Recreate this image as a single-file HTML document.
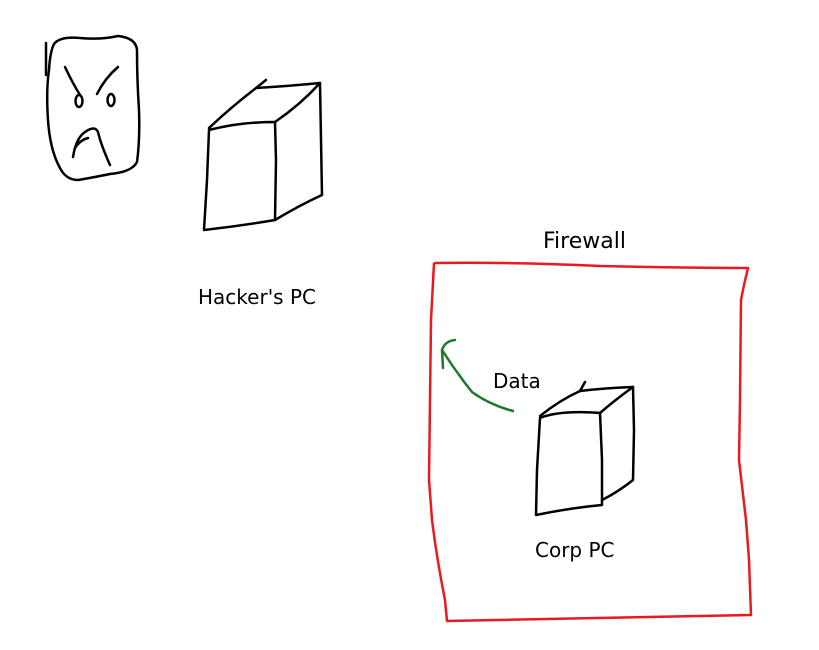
<!DOCTYPE html>
<html><head><meta charset="utf-8"><style>
html,body{margin:0;padding:0;background:#fff;}
svg{display:block}
text{font-family:"DejaVu Sans","Liberation Sans",sans-serif;fill:#000}
</style></head><body>
<svg width="819" height="650" viewBox="0 0 819 650" xmlns="http://www.w3.org/2000/svg">
<g fill="none" stroke="#000" stroke-width="2.5" stroke-linecap="round" stroke-linejoin="round">
<path d="M54,44 Q60,36 80,38 Q100,40 118,36 Q136,38 137,50 Q137,80 139,110 Q140,140 137,162 Q132,172 110,174 Q90,178 78,180 Q66,180 60,168 Q50,150 48,120 Q46,90 49,70 Q50,52 54,44"/>
<path d="M46,43 L46,75"/>
<path d="M65,67 Q72,82 80,95"/>
<path d="M118,67 Q105,78 97,94"/>
<ellipse cx="79" cy="101" rx="3.5" ry="6"/>
<ellipse cx="111" cy="100" rx="3.5" ry="6"/>
<path d="M73,157 Q76,138 85,132 Q95,125 98,132 Q101,145 110,165"/>
<path d="M75,148 Q80,140 88,138"/>
<path d="M209,130 Q240,122 275,122 L276,160 L275,220 Q240,226 204,230 L207,180 L209,130"/>
<path d="M209,128 Q230,108 256,88 Q290,86 320,83 L321,140 L322,195 Q300,205 275,220"/>
<path d="M320,83 Q300,105 275,122"/>
<path d="M256,88 L266,80"/>
<path d="M540,418 Q560,410 600,413 L602,460 L602,505 Q570,508 536,515 L537,470 L540,418"/>
<path d="M540,416 Q560,400 580,391 Q605,388 633,387 L634,430 L633,480 Q618,492 602,500"/>
<path d="M633,387 Q615,400 600,413"/>
<path d="M580,391 L585,382"/>
</g>
<path d="M434,263 Q520,262 600,266 Q680,268 748,268 L744,285 L741,300 L740,400 L739,460 L746,520 L749,560 L751,615 Q600,618 447,621 L445,600 Q437,560 432,520 L429,480 L430,400 L431,320 L434,263" fill="none" stroke="#e8191f" stroke-width="2.5" stroke-linejoin="round"/>
<path d="M513,411 Q490,405 472,392 Q456,372 442,350 M443,368 L442,350 Q445,341 455,340" fill="none" stroke="#1e7a2a" stroke-width="2.5" stroke-linecap="round" stroke-linejoin="round"/>
<text x="543" y="248" font-size="22">Firewall</text>
<text x="198" y="304" font-size="20">Hacker's PC</text>
<text x="493" y="388" font-size="20">Data</text>
<text x="535" y="557" font-size="20">Corp PC</text>
</svg>
</body></html>
